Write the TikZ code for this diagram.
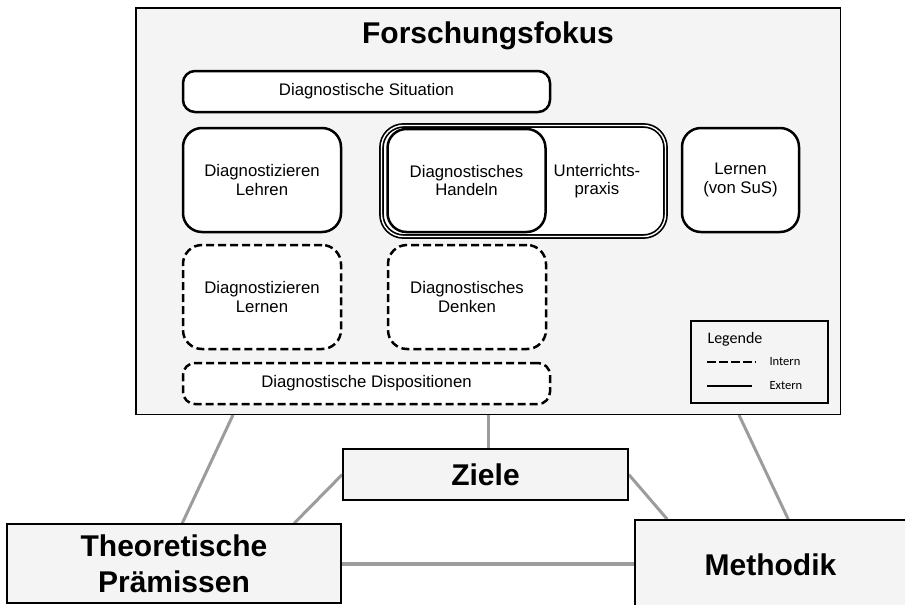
\documentclass[tikz,border=0pt]{standalone}
\usepackage{fontspec}
\setmainfont{Liberation Sans}
\newfontfamily\legfont{Carlito}
\usetikzlibrary{positioning,backgrounds}
\definecolor{boxgray}{HTML}{F4F4F4}
\definecolor{linkgray}{HTML}{9C9C9C}
\newcommand\lblfont{\fontsize{16.75}{18.6}\selectfont}
\newcommand\hdfont{\fontsize{30}{36}\selectfont\bfseries}

\begin{document}
\begin{tikzpicture}[x=1pt,y=-1pt,
   solidbox/.style={draw,line width=2.5pt,rounded corners=19pt,fill=white,
                    align=center,font=\lblfont,inner sep=0pt},
   dashbox/.style={solidbox,dash pattern=on 8pt off 4pt},
   bigbox/.style={draw,line width=1.5pt,fill=boxgray,align=center,
                  font=\hdfont,inner sep=0pt},
   link/.style={draw=linkgray,line width=3pt}]
  \useasboundingbox (0,0) rectangle (905,605);
  \node[bigbox,minimum width=704.5pt,minimum height=406.5pt] (fokus) at (488,211) {};
  \node[font=\hdfont,anchor=base] (titel) at (488,43) {Forschungsfokus};
  % interne und externe Facetten
  \node[solidbox,rounded corners=12pt,minimum width=367pt,minimum height=41pt]
       (sit) at (366.5,91.5) {Diagnostische Situation};
  \node[solidbox,minimum width=158pt,minimum height=104pt]
       (lehren) at (262,180) {Diagnostizieren\\Lehren};
  \node[solidbox,line width=1.7pt,double=white,double distance=1.4pt,
        rounded corners=22pt,minimum width=284pt,minimum height=111pt]
       (praxis) at (523.5,181) {};
  \node[solidbox,minimum width=158pt,minimum height=103pt]
       (handeln) at (466.5,180.5) {Diagnostisches\\Handeln};
  \node[font=\lblfont,align=center] (praxistxt) at (597,181) {Unterrichts-\\praxis};
  \node[solidbox,minimum width=117pt,minimum height=104pt]
       (lernen) at (740.5,180) {Lernen\\(von SuS)};
  \node[dashbox,minimum width=158pt,minimum height=104pt]
       (lernend) at (262,297) {Diagnostizieren\\Lernen};
  \node[dashbox,minimum width=158pt,minimum height=104pt]
       (denken) at (467,297) {Diagnostisches\\Denken};
  \node[dashbox,rounded corners=12pt,minimum width=367pt,minimum height=41pt]
       (dispo) at (366.5,383.5) {Diagnostische Dispositionen};
  % Legende
  \node[draw,line width=1.5pt,minimum width=137pt,minimum height=82pt,inner sep=0pt]
       (leg) at (759.5,362) {};
  \node[font=\legfont\fontsize{16}{18}\selectfont,anchor=base west] (legtitel)
       at (704,343) {Legende};
  \draw[line width=2pt,dash pattern=on 9pt off 3pt]
       ([shift={(17,42)}]leg.north west) -- ++(49,0);
  \draw[line width=2pt] ([shift={(17,66)}]leg.north west) -- ++(45,0);
  \node[font=\legfont\fontsize{12.5}{15}\selectfont,anchor=west] (intern)
       at (766,362) {Intern};
  \node[font=\legfont\fontsize{12.5}{15}\selectfont,anchor=west] (extern)
       at (766,386) {Extern};
  % Dreieck
  \node[bigbox,minimum width=285pt,minimum height=51pt] (ziele) at (485.5,474.5) {Ziele};
  \node[bigbox,minimum width=334pt,minimum height=79pt] (theo) at (174,563.5)
       {Theoretische\\Prämissen};
  \node[bigbox,minimum width=271pt,minimum height=90pt] (meth) at (770.5,565) {Methodik};
  \begin{scope}[on background layer]
    \draw[link] ([xshift=98pt]fokus.south west) -- ([xshift=176pt]theo.north west);
    \draw[link] (fokus.south) -- (fokus.south |- ziele.north);
    \draw[link] ([xshift=-102pt]fokus.south east) -- ([xshift=154pt]meth.north west);
    \draw[link] (ziele.west) -- ([xshift=288pt]theo.north west);
    \draw[link] (ziele.east) -- ([xshift=33pt]meth.north west);
    \draw[link,line width=4pt] (theo.east) -- (theo.east -| meth.west);
  \end{scope}
\end{tikzpicture}
\end{document}
